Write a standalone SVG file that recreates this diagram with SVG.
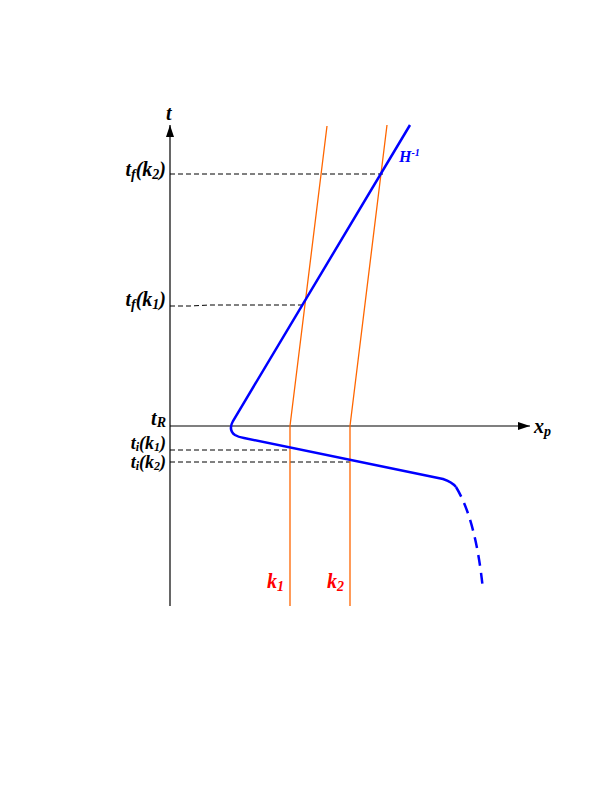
<svg xmlns="http://www.w3.org/2000/svg" width="612" height="792" viewBox="0 0 612 792">
<style>
.lbl{font-family:"Liberation Serif",serif;font-style:italic;font-weight:bold;font-size:20px;fill:#000}
.sm{font-size:18px}
.r{text-anchor:end}
.sub{font-size:14px}
.sm .sub{font-size:12px}
.ax{stroke:#000;stroke-width:1.2;fill:none}
.dash{stroke:#000;stroke-width:1;stroke-dasharray:5,3;fill:none}
.or{stroke:#ff6600;stroke-width:1.3;fill:none}
.bl{stroke:#0000ff;stroke-width:2.5;fill:none}
</style>
<defs>
<marker id="ar" markerWidth="12" markerHeight="8" refX="12" refY="4" orient="auto" markerUnits="userSpaceOnUse">
<path d="M0,0 L12,4 L0,8 z" fill="#000"/>
</marker>
</defs>
<rect width="612" height="792" fill="#fff"/>
<g id="axes">
<line class="ax" x1="170" y1="606" x2="170" y2="125" marker-end="url(#ar)"/>
<line class="ax" x1="170" y1="426" x2="530" y2="426" marker-end="url(#ar)"/>
</g>
<g id="connectors">
<line class="dash" x1="170" y1="174" x2="383" y2="174"/>
<path class="dash" d="M170,306 L190,306 L210,305 L304,305"/>
<line class="dash" x1="170" y1="450" x2="290" y2="450"/>
<line class="dash" x1="170" y1="462" x2="350" y2="462"/>
</g>
<g id="k1">
<path class="or" d="M290,606 L290,426 L327,126"/>
</g>
<g id="k2">
<path class="or" d="M350,606 L350,426 L387,125"/>
</g>
<g id="H">
<path class="bl" d="M410,125 L233,421 Q228,430 235,435 Q238,437 244,438 L443,479 Q452,482 456,487"/>
<path class="bl" d="M456,487 Q476,520 483,590" stroke-dasharray="11,7"/>
</g>
<g id="labels">
<text class="lbl" x="166" y="120">t</text>
<text class="lbl r" x="166" y="176">t<tspan class="sub" dy="3">f</tspan><tspan dy="-3">(k</tspan><tspan class="sub" dy="3">2</tspan><tspan dy="-3">)</tspan></text>
<text class="lbl r" x="166" y="306">t<tspan class="sub" dy="3">f</tspan><tspan dy="-3">(k</tspan><tspan class="sub" dy="3">1</tspan><tspan dy="-3">)</tspan></text>
<text class="lbl r" x="166" y="425">t<tspan class="sub" dy="2">R</tspan></text>
<text class="lbl sm r" x="166" y="449">t<tspan class="sub" dy="2">i</tspan><tspan dy="-2">(k</tspan><tspan class="sub" dy="2">1</tspan><tspan dy="-2">)</tspan></text>
<text class="lbl sm r" x="166" y="468">t<tspan class="sub" dy="2">i</tspan><tspan dy="-2">(k</tspan><tspan class="sub" dy="2">2</tspan><tspan dy="-2">)</tspan></text>
<text class="lbl" x="534" y="433">x<tspan class="sub" dy="3">p</tspan></text>
<text x="399" y="162" style="font-family:'Liberation Serif',serif;font-style:italic;font-weight:bold;font-size:16px;fill:#0000ff">H<tspan font-size="10" dy="-6">-1</tspan></text>
<text class="lbl" x="267" y="588" style="fill:#ff0000">k<tspan class="sub" dy="3">1</tspan></text>
<text class="lbl" x="327" y="588" style="fill:#ff0000">k<tspan class="sub" dy="3">2</tspan></text>
</g>
</svg>
